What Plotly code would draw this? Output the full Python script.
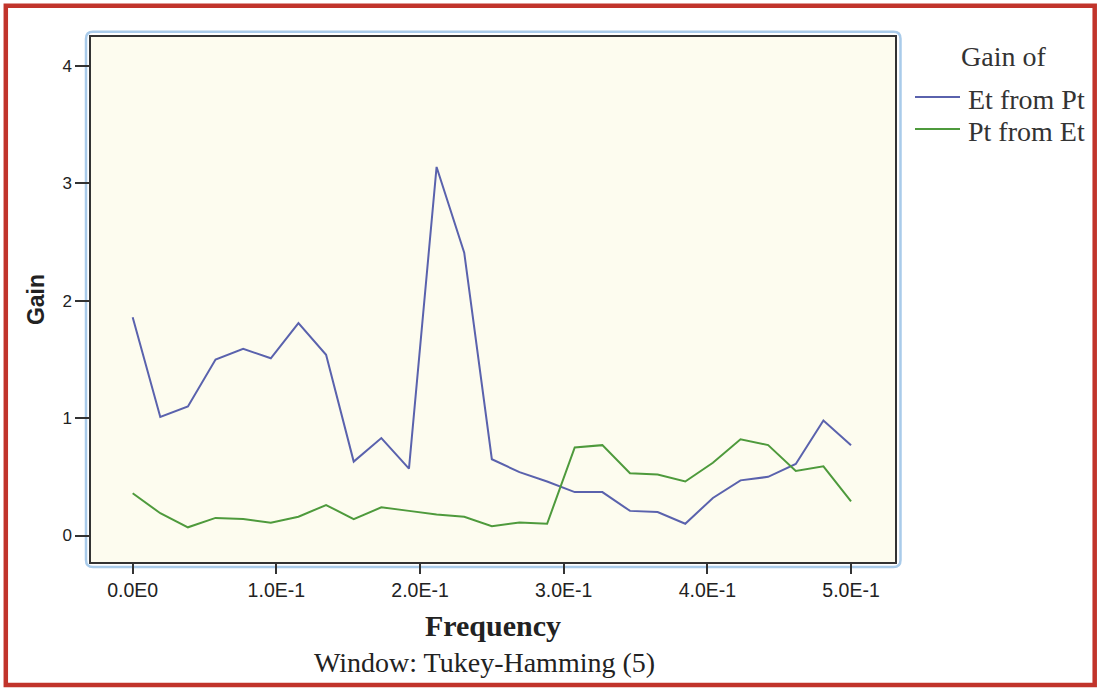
import plotly.graph_objects as go

# ---- data ----
frequency = [0.0, 0.01923, 0.03846, 0.05769, 0.07692, 0.09615, 0.11538, 0.13462,
             0.15385, 0.17308, 0.19231, 0.21154, 0.23077, 0.25, 0.26923, 0.28846,
             0.30769, 0.32692, 0.34615, 0.36538, 0.38462, 0.40385, 0.42308,
             0.44231, 0.46154, 0.48077, 0.5]
gain_et_from_pt = [1.86, 1.01, 1.10, 1.50, 1.59, 1.51, 1.81, 1.54, 0.63, 0.83,
                   0.57, 3.14, 2.41, 0.65, 0.54, 0.46, 0.37, 0.37, 0.21, 0.20,
                   0.10, 0.32, 0.47, 0.50, 0.61, 0.98, 0.77]
gain_pt_from_et = [0.36, 0.19, 0.07, 0.15, 0.14, 0.11, 0.16, 0.26, 0.14, 0.24,
                   0.21, 0.18, 0.16, 0.08, 0.11, 0.10, 0.75, 0.77, 0.53, 0.52,
                   0.46, 0.62, 0.82, 0.77, 0.55, 0.59, 0.29]
series_names = ["Et from Pt", "Pt from Et"]
series_colors = ["#5a62ad", "#4e9a3c"]
x_tick_vals = [0.0, 0.1, 0.2, 0.3, 0.4, 0.5]
x_tick_text = ["0.0E0", "1.0E-1", "2.0E-1", "3.0E-1", "4.0E-1", "5.0E-1"]
y_tick_vals = [0, 1, 2, 3, 4]
y_tick_text = ["0", "1", "2", "3", "4"]

# ---- layout geometry (pixels) ----
W, H = 1100, 689
L, R, T, B = 91, 895, 37, 562.5


def px(xp):
    return (xp - L) / (R - L)


def py(yp):
    return (B - yp) / (B - T)


fig = go.Figure()
for name, vals, col in zip(series_names, [gain_et_from_pt, gain_pt_from_et], series_colors):
    fig.add_trace(go.Scatter(x=frequency, y=vals, mode="lines", name=name,
                             line=dict(color=col, width=2), showlegend=False))

serif = "Liberation Serif, Times New Roman, serif"
sans = "Liberation Sans, Arial, sans-serif"

fig.update_layout(
    width=W, height=H,
    margin=dict(l=L, r=W - R, t=T, b=H - B, autoexpand=False),
    paper_bgcolor="white",
    plot_bgcolor="#fdfcef",
    xaxis=dict(range=[-0.029, 0.5306], tickvals=x_tick_vals, ticktext=x_tick_text,
               showgrid=False, zeroline=False, showline=True, mirror=True,
               linecolor="#333333", linewidth=1.5,
               ticks="outside", ticklen=10, tickcolor="#333333", tickwidth=1.5,
               tickfont=dict(family=sans, size=19.5, color="#222222"),
               title=dict(text="<b>Frequency</b>", standoff=15,
                          font=dict(family=serif, size=30, color="#222222"))),
    yaxis=dict(range=[-0.2255, 4.247], tickvals=y_tick_vals, ticktext=y_tick_text,
               showgrid=False, zeroline=False, showline=True, mirror=True,
               linecolor="#333333", linewidth=1.5,
               ticks="outside", ticklen=14, tickcolor="#333333", tickwidth=1.5,
               tickfont=dict(family=sans, size=17, color="#222222"),
               title=dict(text="<b>Gain</b>", standoff=11,
                          font=dict(family=sans, size=23, color="#222222"))),
)

# outer red frame
fig.add_shape(type="rect", xref="paper", yref="paper",
              x0=px(5.8), x1=px(1094.7), y0=py(685.5), y1=py(5.8),
              line=dict(color="#c1342b", width=4.5), layer="above")

# rounded light-blue frame around the plot area
bx0, bx1, by0, by1 = px(86), px(900.5), py(567.5), py(31.7)
rx, ry = 7 / (R - L), 7 / (B - T)
path = (f"M {bx0 + rx},{by1} L {bx1 - rx},{by1} Q {bx1},{by1} {bx1},{by1 - ry} "
        f"L {bx1},{by0 + ry} Q {bx1},{by0} {bx1 - rx},{by0} "
        f"L {bx0 + rx},{by0} Q {bx0},{by0} {bx0},{by0 + ry} "
        f"L {bx0},{by1 - ry} Q {bx0},{by1} {bx0 + rx},{by1} Z")
fig.add_shape(type="path", xref="paper", yref="paper", path=path,
              line=dict(color="#a9cbea", width=2.5), layer="below")

# subtitle
fig.add_annotation(text="Window: Tukey-Hamming (5)", xref="paper", yref="paper",
                   x=px(484), y=py(663), xanchor="center", yanchor="middle",
                   showarrow=False, font=dict(family=serif, size=28, color="#222222"))

# legend (drawn manually to match spacing)
fig.add_annotation(text="Gain of", xref="paper", yref="paper",
                   x=px(1003), y=py(57), xanchor="center", yanchor="middle",
                   showarrow=False, font=dict(family=serif, size=28, color="#333333"))
for i, (name, col) in enumerate(zip(series_names, series_colors)):
    yline = 97 + 32 * i
    fig.add_shape(type="line", xref="paper", yref="paper",
                  x0=px(915), x1=px(960), y0=py(yline), y1=py(yline),
                  line=dict(color=col, width=2))
    fig.add_annotation(text=name, xref="paper", yref="paper",
                       x=px(966), y=py(yline + 3), xanchor="left", yanchor="middle",
                       showarrow=False, font=dict(family=serif, size=28, color="#333333"))

fig.write_html("out.html", config={"displayModeBar": False},
               post_script="document.body.style.margin='0';document.body.style.overflow='hidden';")
